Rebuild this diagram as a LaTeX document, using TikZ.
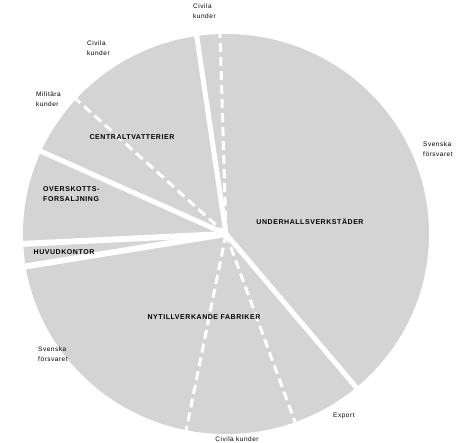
\documentclass[tikz,border=0pt]{standalone}
\usepackage{fontspec}
\setmainfont{Liberation Sans}
\newfontfamily\capfont[LetterSpace=8]{Liberation Sans}
\definecolor{piegray}{RGB}{212,212,212}
\begin{document}
\begin{tikzpicture}[x=1pt,y=-1pt,
  solidcut/.style={white,line width=5pt},
  dashcut/.style={white,line width=3pt,dash pattern=on 9pt off 5pt},
  biglabel/.style={font=\capfont\bfseries\fontsize{7}{10}\selectfont,inner sep=0pt,anchor=base},
  smalllabel/.style={font=\capfont\fontsize{6.5}{10}\selectfont,inner sep=0pt,anchor=base west,align=left}]
\useasboundingbox (0,0) rectangle (466,443);
\fill[white] (0,0) rectangle (466,443);
\coordinate (C) at (226,234);
\fill[piegray] (C) ellipse [x radius=203, y radius=200];
% end points of the cuts
\coordinate (p1) at (196,31);
\coordinate (p2) at (220,32);
\coordinate (p3) at (76,99);
\coordinate (p4) at (38,150);
\coordinate (p5) at (21,244);
\coordinate (p6) at (22,267);
\coordinate (p7) at (186,431);
\coordinate (p8) at (295,422);
\coordinate (p9) at (361,393);
\draw[dashcut] (C) -- (p2);
\draw[dashcut] (C) -- (p3);
\draw[dashcut] (C) -- (p7);
\draw[dashcut] (C) -- (p8);
\draw[solidcut] (C) -- (p1);
\draw[solidcut] (C) -- (p4);
\draw[solidcut,line width=6pt] (C) -- (p5);
\draw[solidcut,line width=6pt] (C) -- (p6);
\draw[solidcut] (C) -- (p9);
% sector labels
\node[biglabel] (uv) at (310,224.5) {UNDERHALLSVERKSTÄDER};
\node[biglabel] (ct) at (132,139.5) {CENTRALTVATTERIER};
\node[biglabel,anchor=base west,align=left] (ov) at (43,201.5) {OVERSKOTTS-\\FORSALJNING};
\node[biglabel] (hk) at (64,254.5) {HUVUDKONTOR};
\node[biglabel] (nf) at (204,319.5) {NYTILLVERKANDE FABRIKER};
% customer labels
\node[smalllabel] (ck1) at (193,19) {Civila\\kunder};
\node[smalllabel] (ck2) at (87,56) {Civila\\kunder};
\node[smalllabel] (mk) at (36,107) {Militära\\kunder};
\node[smalllabel] (sf1) at (423,157) {Svenska\\försvaret};
\node[smalllabel] (sf2) at (38,362) {Svenska\\försvaret};
\node[smalllabel] (ex) at (333,418) {Export};
\node[smalllabel,anchor=base] (ck3) at (237,441.5) {Civila kunder};
\end{tikzpicture}
\end{document}
